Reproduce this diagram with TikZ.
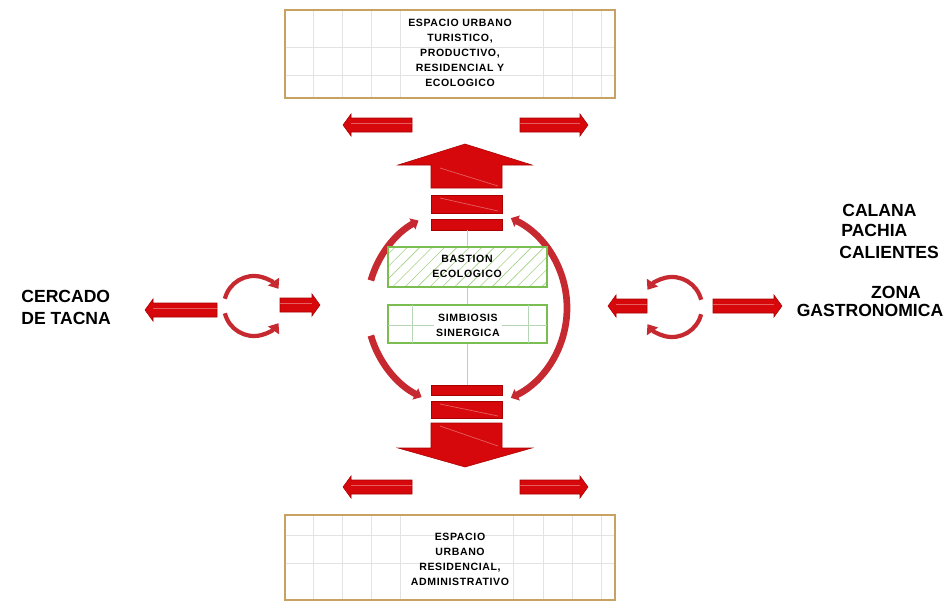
\documentclass[tikz,border=0pt]{standalone}
\usepackage{fontspec}
\setmainfont{Liberation Sans}
\newfontfamily\boxfont[LetterSpace=6]{Liberation Sans}
\usetikzlibrary{arrows.meta,patterns.meta}
\definecolor{rojo}{RGB}{214,8,12}
\definecolor{rojoosc}{RGB}{168,0,0}
\definecolor{arco}{RGB}{198,42,48}
\definecolor{marron}{RGB}{200,162,98}
\definecolor{verde}{RGB}{122,190,82}
\tikzset{
  caja/.style={draw=marron, line width=1.1pt},
  rejilla/.style={gray!22, line width=0.5pt},
  bloque/.style={fill=rojo, draw=rojoosc, line width=0.3pt},
  brillo/.style={white, opacity=0.35, line width=0.4pt},
  anillo/.style={arco, line width=3.8pt},
  punta/.style={-{Triangle[width=7pt,length=4pt]}},
  giro/.style={arco, line width=2.4pt, -{Triangle[width=7.5pt,length=5pt]}},
  etiqueta/.style={font=\bfseries\fontsize{10}{12.5}\selectfont, inner sep=0pt},
  textocaja/.style={font=\boxfont\bfseries\fontsize{6}{8.5}\selectfont, align=center, inner sep=0pt},
  cajaverde/.style={draw=verde, line width=0.6pt, fill=white},
  guia/.style={green!30!gray!45, line width=0.4pt}
}
\newcommand{\flecha}[4]{%
  \path[bloque] (#1,#4-7) -- (#2,#4-7) -- (#2,#4-11) -- (#3,#4) -- (#2,#4+11) -- (#2,#4+7) -- (#1,#4+7) -- cycle;
  \draw[brillo] (#1,#4+2) -- (#2,#4+2);
}

\begin{document}
\begin{tikzpicture}[x=0.02cm, y=0.02cm]
\useasboundingbox (0,0) rectangle (950,-605);
\coordinate (c) at (467,-308);
\coordinate (gi) at (254,-306);
\coordinate (gd) at (672,-307);

\foreach \gx in {313,342,371,400,543,572,601}
  \draw[rejilla] (\gx,-10) -- (\gx,-98);
\foreach \gy in {-47,-75}
  \draw[rejilla] (285,\gy) -- (615,\gy);
\draw[caja] (285,-10) rectangle (615,-98);
\node[textocaja] (arriba) at (460,-53) {ESPACIO URBANO\\TURISTICO,\\PRODUCTIVO,\\RESIDENCIAL Y\\ECOLOGICO};

\foreach \gx in {313,342,371,400,513,543,572,601}
  \draw[rejilla] (\gx,-515) -- (\gx,-600);
\foreach \gy in {-535,-563}
  \draw[rejilla] (285,\gy) -- (615,\gy);
\draw[caja] (285,-515) rectangle (615,-600);
\node[textocaja] (abajo) at (460,-559) {ESPACIO\\URBANO\\RESIDENCIAL,\\ADMINISTRATIVO};

\flecha{412}{351}{343}{-125}
\flecha{520}{580}{588}{-125}
\flecha{412}{351}{343}{-487}
\flecha{520}{580}{588}{-487}

\path[bloque] (398,-165) -- (465,-144) -- (532,-165) -- (502,-165) -- (502,-188) -- (431,-188) -- (431,-165) -- cycle;
\path[bloque] (431,-195) rectangle (502,-213);
\path[bloque] (431,-219) rectangle (502,-230);
\draw[brillo] (440,-168) -- (498,-186);
\draw[brillo] (440,-198) -- (498,-211);
\path[bloque] (431,-385) rectangle (502,-395);
\path[bloque] (431,-401) rectangle (502,-418);
\path[bloque] (431,-423) -- (502,-423) -- (502,-448) -- (532,-448) -- (465,-467) -- (398,-448) -- (431,-448) -- cycle;
\draw[brillo] (440,-404) -- (498,-416);
\draw[brillo] (440,-426) -- (498,-446);

\draw[anillo, punta] ([shift={(164:100)}]c) arc[start angle=164, end angle=119, radius=100];
\draw[anillo, punta] ([shift={(196:100)}]c) arc[start angle=196, end angle=243, radius=100];
\draw[anillo, punta] ([shift={(0:100)}]c) arc[start angle=0, end angle=64, radius=100];
\draw[anillo, punta] ([shift={(0:100)}]c) arc[start angle=0, end angle=-64, radius=100];

\draw[guia] (467,-230) -- (467,-385);
\path[cajaverde] (388,-247) rectangle (547,-287);
\path[pattern={Lines[angle=45,distance=5pt,line width=0.35pt]}, pattern color=verde!70] (388,-247) rectangle (547,-287);
\draw[cajaverde, fill=none] (388,-247) rectangle (547,-287);
\node[textocaja] (bastion) at (467,-266) {BASTION\\ECOLOGICO};
\path[cajaverde] (388,-305) rectangle (547,-343);
\draw[guia] (388,-325) -- (547,-325) (412,-305) -- (412,-343) (528,-305) -- (528,-343);
\node[textocaja, fill=white, inner sep=1pt] (simbiosis) at (468,-325) {SIMBIOSIS\\SINERGICA};

\flecha{217}{153}{145}{-310}
\draw[giro] ([shift={(166:30)}]gi) arc[start angle=166, end angle=35, radius=30];
\draw[giro] ([shift={(194:30)}]gi) arc[start angle=194, end angle=325, radius=30];
\flecha{280}{312}{320}{-305}

\flecha{647}{616}{608}{-306}
\draw[giro] ([shift={(14:30)}]gd) arc[start angle=14, end angle=145, radius=30];
\draw[giro] ([shift={(-14:30)}]gd) arc[start angle=-14, end angle=-145, radius=30];
\flecha{713}{774}{782}{-306}

\node[etiqueta, align=left, anchor=west] (cercado) at (21,-307) {CERCADO\\DE TACNA};
\node[etiqueta, anchor=west] (calana) at (842,-210) {CALANA};
\node[etiqueta, anchor=west] (pachia) at (841,-230) {PACHIA};
\node[etiqueta, anchor=west] (calientes) at (839,-252) {CALIENTES};
\node[etiqueta] (zona) at (896,-292) {ZONA};
\node[etiqueta] (gastro) at (870,-310) {GASTRONOMICA};
\end{tikzpicture}
\end{document}
